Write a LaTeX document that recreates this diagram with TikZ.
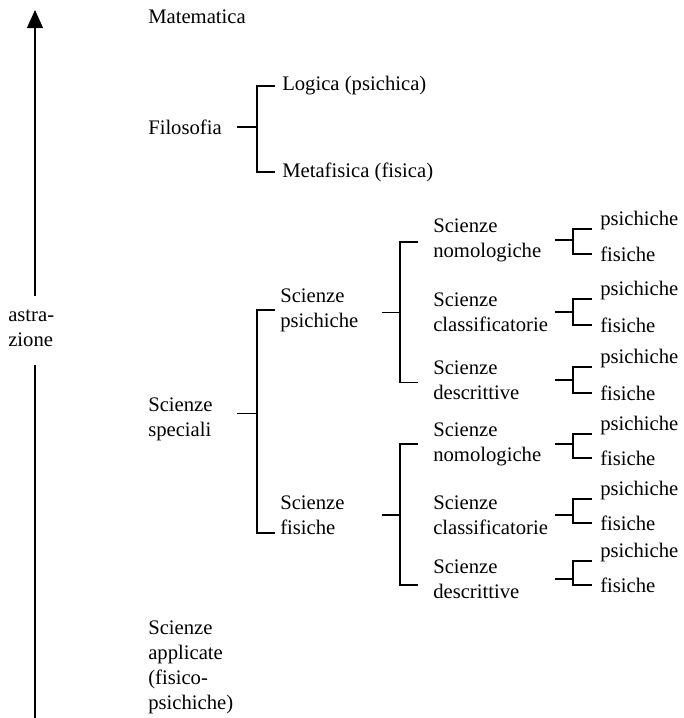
\documentclass[tikz,border=0pt]{standalone}
\usepackage{fontspec}
\setmainfont{Liberation Serif}
\usetikzlibrary{arrows.meta}
\tikzset{
	lbl/.style={anchor=west, inner sep=0pt, align=left, font=\fontsize{15.5}{18.75}\selectfont},
	brk/.style={line width=0.8pt},
	arm/.style={brk, shorten >=#1},
}
\begin{document}
\begin{tikzpicture}[x=0.75pt,y=-0.75pt]
	\useasboundingbox (0,0) rectangle (683,718);
	% abstraction axis
	\node[lbl] (astra) at (8,328.5) {astra-\\zione};
	\coordinate (top) at (35,10);
	\coordinate (bot) at (35,718);
	\draw[brk, shorten <=10pt, -{Triangle[length=13.5pt,width=12pt]}] (astra.north -| top) -- (top);
	\draw[brk, shorten <=13pt] (astra.south -| top) -- (bot);
	% columns of the brackets
	\coordinate (s1) at (237,0);
	\coordinate (k1) at (257,0);
	\coordinate (s2) at (382,0);
	\coordinate (k2) at (400,0);
	\coordinate (s3) at (555,0);
	\coordinate (k3) at (573,0);
	% first column
	\node[lbl] (mate) at (148,17) {Matematica};
	\node[lbl] (filo) at (148,127) {Filosofia};
	\node[lbl] (spec) at (148,419) {Scienze\\speciali};
	\node[lbl] (appl) at (148,667) {Scienze\\applicate\\(fisico-\\psichiche)};
	% second column
	\node[lbl] (logi) at (282,86) {Logica (psichica)};
	\node[lbl] (meta) at (282,172) {Metafisica (fisica)};
	\node[lbl] (spsi) at (280,310) {Scienze\\psichiche};
	\node[lbl] (sfis) at (280,515) {Scienze\\fisiche};
	% third column
	\node[lbl] (n1) at (433,240) {Scienze\\nomologiche};
	\node[lbl] (c1) at (433,312) {Scienze\\classificatorie};
	\node[lbl] (d1) at (433,380) {Scienze\\descrittive};
	\node[lbl] (n2) at (433,444) {Scienze\\nomologiche};
	\node[lbl] (c2) at (433,515) {Scienze\\classificatorie};
	\node[lbl] (d2) at (433,579) {Scienze\\descrittive};
	% leaves
	\node[lbl] (p1) at (600,221) {psichiche};
	\node[lbl] (f1) at (600,254) {fisiche};
	\node[lbl] (p2) at (600,291) {psichiche};
	\node[lbl] (f2) at (600,325) {fisiche};
	\node[lbl] (p3) at (600,359) {psichiche};
	\node[lbl] (f3) at (600,393) {fisiche};
	\node[lbl] (p4) at (600,426) {psichiche};
	\node[lbl] (f4) at (600,458) {fisiche};
	\node[lbl] (p5) at (600,491) {psichiche};
	\node[lbl] (f5) at (600,523) {fisiche};
	\node[lbl] (p6) at (600,553) {psichiche};
	\node[lbl] (f6) at (600,585) {fisiche};
	% Filosofia
	\draw[brk] (filo.east -| s1) -- (filo.east -| k1);
	\draw[arm=5.25pt] (filo.east -| k1) |- (logi.west);
	\draw[arm=5.25pt] (filo.east -| k1) |- (meta.west);
	% Scienze speciali
	\draw[brk] ([yshift=4pt]spec.east -| s1) -- ([yshift=4pt]spec.east -| k1);
	\draw[arm=3.75pt] ([yshift=4pt]spec.east -| k1) |- (spsi.west);
	\draw[arm=3.75pt] ([yshift=4pt]spec.east -| k1) |- ([yshift=-13.5pt]sfis.west);
	% psichiche / fisiche
	\draw[brk] ([yshift=-2pt]spsi.east -| s2) -- ([yshift=-2pt]spsi.east -| k2);
	\draw[arm=11.25pt] ([yshift=-2pt]spsi.east -| k2) |- ([yshift=-1.5pt]n1.west);
	\draw[arm=11.25pt] ([yshift=-2pt]spsi.east -| k2) |- ([yshift=-2pt]d1.west);
	\draw[brk] (sfis.east -| s2) -- (sfis.east -| k2);
	\draw[arm=11.25pt] (sfis.east -| k2) |- (n2.west);
	\draw[arm=11.25pt] (sfis.east -| k2) |- ([yshift=-4.5pt]d2.west);
	% leaves
	\foreach \g/\p/\f in {n1/p1/f1, c1/p2/f2, d1/p3/f3, n2/p4/f4, c2/p5/f5, d2/p6/f6} {
		\draw[brk] (\g.east -| s3) -- (\g.east -| k3);
		\draw[arm=6pt] (\g.east -| k3) |- ([yshift=-6pt]\p.west);
		\draw[arm=6pt] (\g.east -| k3) |- (\f.west);
	}
\end{tikzpicture}
\end{document}
